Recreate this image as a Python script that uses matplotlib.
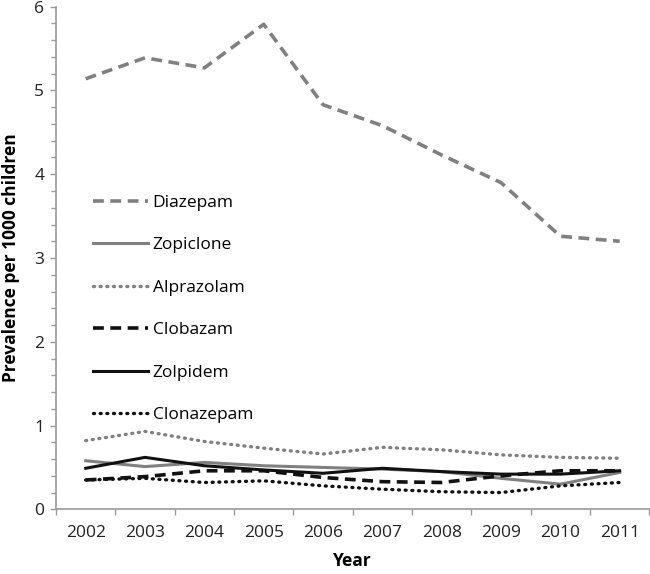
import matplotlib
matplotlib.use('Agg')
import matplotlib.pyplot as plt
import numpy as np
from matplotlib.ticker import MultipleLocator, FixedLocator

plt.rcParams['font.family'] = ['Open Sans', 'DejaVu Sans']

years = ['2002', '2003', '2004', '2005', '2006', '2007', '2008', '2009', '2010', '2011']

diazepam = [5.14, 5.39, 5.27, 5.79, 4.83, 4.58, 4.23, 3.90, 3.26, 3.20]
zopiclone = [0.58, 0.51, 0.56, 0.52, 0.50, 0.48, 0.45, 0.37, 0.30, 0.44]
alprazolam = [0.82, 0.93, 0.81, 0.73, 0.66, 0.74, 0.71, 0.65, 0.62, 0.61]
clobazam = [0.35, 0.39, 0.46, 0.46, 0.38, 0.33, 0.32, 0.40, 0.46, 0.46]
zolpidem = [0.49, 0.62, 0.52, 0.47, 0.43, 0.49, 0.45, 0.42, 0.42, 0.46]
clonazepam = [0.35, 0.37, 0.32, 0.34, 0.28, 0.24, 0.21, 0.20, 0.28, 0.32]

gray = '#808080'
dark = '#111111'

fig = plt.figure(figsize=(6.5, 5.74), dpi=100)
ax = fig.add_axes([0.0862, 0.1127, 0.9128, 0.8756])

x = np.arange(len(years))
ax.plot(x, diazepam, color=gray, lw=2.6, dashes=(3.0, 1.8), label='Diazepam')
ax.plot(x, zopiclone, color=gray, lw=2.2, label='Zopiclone')
ax.plot(x, alprazolam, color=gray, lw=2.4, dashes=(0.3, 1.7), dash_capstyle='round',
        label='Alprazolam')
ax.plot(x, clobazam, color=dark, lw=2.6, dashes=(3.0, 1.8), label='Clobazam')
ax.plot(x, zolpidem, color=dark, lw=2.2, label='Zolpidem')
ax.plot(x, clonazepam, color=dark, lw=2.4, dashes=(0.3, 1.7), dash_capstyle='round',
        label='Clonazepam')

ax.set_xlim(-0.5, len(years) - 0.5)
ax.set_ylim(0, 6)
ax.set_xticks(x)
ax.set_xticklabels(years, fontsize=12.5, color='#222222')
ax.xaxis.set_minor_locator(FixedLocator(np.arange(-0.5, len(years), 1.0)))
ax.tick_params(axis='x', which='major', length=0, pad=11)
ax.tick_params(axis='x', which='minor', length=4.5, width=1, color='#999999', direction='out')

ax.yaxis.set_major_locator(MultipleLocator(1))
ax.yaxis.set_minor_locator(MultipleLocator(0.2))
ax.tick_params(axis='y', which='major', length=4.5, width=1, color='#999999',
               labelsize=12.5, labelcolor='#222222', pad=4)
ax.tick_params(axis='y', which='minor', length=3.5, width=1, color='#999999')

for side in ['top', 'right']:
    ax.spines[side].set_visible(False)
for side in ['left', 'bottom']:
    ax.spines[side].set_color('#999999')
    ax.spines[side].set_linewidth(1.2)

ax.set_xlabel('Year', fontsize=12.5, fontweight='bold', labelpad=8)
ax.set_ylabel('Prevalence per 1000 children', fontsize=12.5, fontweight='bold', labelpad=10)

ax.legend(loc='upper left', bbox_to_anchor=(0.05, 0.64), frameon=False, fontsize=12.5,
          handlelength=3.2, handletextpad=0.25, labelspacing=1.52, borderaxespad=0)

fig.savefig('out.png', dpi=100)
